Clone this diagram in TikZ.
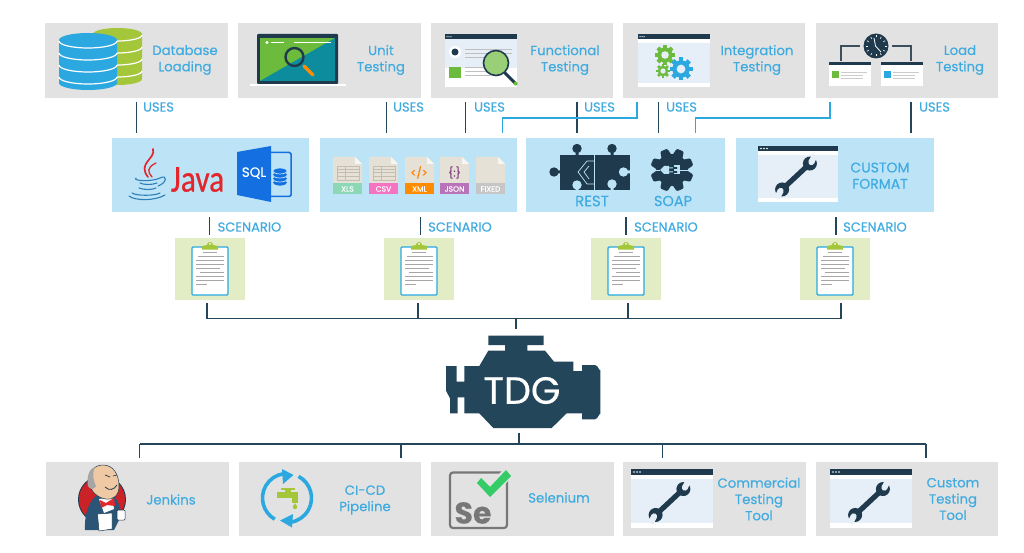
\documentclass[tikz,border=0pt]{standalone}
\usepackage{fontspec}
\setmainfont{Poppins}[FakeBold=0.35]
\newfontfamily\javaf{Carlito}[FakeBold=0.6]
\definecolor{gbox}{HTML}{E2E2E2}
\definecolor{mbox}{HTML}{BDE4F6}
\definecolor{sbox}{HTML}{E2EDC6}
\definecolor{lbl}{HTML}{3FABE0}
\definecolor{navy}{HTML}{24465B}
\definecolor{dark}{HTML}{1F3A4D}
\definecolor{win}{HTML}{E6EEF8}
\definecolor{cblue}{HTML}{2BA8E0}
\definecolor{lgreen}{HTML}{A4C63A}
\definecolor{mgreen}{HTML}{6CBB3C}
\definecolor{sqlb}{HTML}{1470E0}
\definecolor{docc}{HTML}{E6E1D6}
\definecolor{docl}{HTML}{C4BDB0}
\definecolor{jred}{HTML}{E2262B}
\definecolor{jcup}{HTML}{2C7FB8}
\definecolor{skin}{HTML}{EFC9A4}
\definecolor{suit}{HTML}{2A5576}
\definecolor{seg}{HTML}{777777}
\tikzset{
  graybox/.style={fill=gbox,draw=none,inner sep=0pt,anchor=north west},
  midbox/.style={fill=mbox,draw=none,inner sep=0pt,anchor=north west},
  scenbox/.style={fill=sbox,draw=none,inner sep=0pt,anchor=north west,minimum width=70pt,minimum height=62pt},
  lab/.style={text=lbl,align=center,inner sep=0pt,font=\fontsize{13.3}{16.3}\selectfont},
  tag/.style={text=lbl,inner sep=0pt,anchor=west,font=\fontsize{13}{14}\selectfont},
  bus/.style={draw=navy,line width=1.8pt},
  blue link/.style={draw=cblue,line width=1.7pt},
  flab/.style={text=white,inner sep=0pt,font=\fontsize{7.6}{8}\selectfont}
}
\newcommand\mywindow[4]{% x y w h
  \fill[white] (#1,#2) rectangle ++(#3,#4);
  \fill[win] (#1,#2+9) rectangle (#1+#3,#2+#4-4);
  \fill[dark] (#1,#2) rectangle (#1+#3,#2+5.5);
  \foreach \d in {2,4,6}{\fill[white] (#1+\d,#2+2.7) circle (0.7);}
}
\newcommand\mywrench[2]{%
  \begin{scope}[shift={(#1,#2)},rotate=43]
    \fill[dark] (-18,-2.6) rectangle (18,2.6);
    \fill[dark] (-19,0) circle (7);
    \fill[dark] (19,0) circle (7);
    \begin{scope}[shift={(21,0)},rotate=20]\fill[win] (0,-3) rectangle (8,3);\fill[win] (0,0) circle (3);\end{scope}
    \begin{scope}[shift={(-21,0)},rotate=-160]\fill[win] (0,-3) rectangle (8,3);\fill[win] (0,0) circle (3);\end{scope}
  \end{scope}
}
\newcommand\mygear[6]{% x y r color holecolor teeth
  \fill[#4] (#1,#2) circle (#3*0.76);
  \foreach \k in {1,...,#6}{
    \begin{scope}[shift={(#1,#2)},rotate=\k*360/#6]
      \fill[#4] (#3*0.6,-#3*0.2) rectangle (#3,#3*0.2);
    \end{scope}}
  \fill[#5] (#1,#2) circle (#3*0.38);
}
\newcommand\myclip[1]{% centre x
  \fill[white,draw=cblue,line width=1.4pt,rounded corners=1pt] (#1-18,247) rectangle (#1+18,295);
  \fill[lgreen] (#1-8,249.5) -- (#1-8,246) -- (#1-3,245) arc (180:360:3) -- (#1+8,246) -- (#1+8,249.5) -- cycle;
  \fill[white] (#1,243.8) circle (1);
  \draw[gray!70,line width=.8pt]
    (#1-7,252.5) -- (#1+7,252.5)
    (#1-12,256.5) -- (#1+14,256.5) (#1-14,260.5) -- (#1+14,260.5)
    (#1-14,264.5) -- (#1+14,264.5) (#1-14,268.5) -- (#1+10,268.5)
    (#1-10,272.5) -- (#1+14,272.5) (#1-14,276.5) -- (#1+14,276.5)
    (#1-14,280.5) -- (#1+14,280.5) (#1-14,284.5) -- (#1-3,284.5);
}
\newcommand\myfile[4]{% x colour label glyph
  \fill[docc] (#1,157) -- (#1+22,157) -- (#1+29,164) -- (#1+29,184) -- (#1,184) -- cycle;
  \fill[white!70!docc] (#1+22,157) -- (#1+29,164) -- (#1+22,164) -- cycle;
  \fill[#2] (#1,183.5) rectangle ++(29,11);
  \node[flab] (f#3) at (#1+14.5,189) {#3};
  #4
}
\newcommand\mygrid[1]{%
  \draw[docl,line width=.9pt] (#1+4,166) rectangle (#1+26,180)
   (#1+4,169) -- (#1+26,169) (#1+4,172.5) -- (#1+26,172.5) (#1+4,176) -- (#1+26,176) (#1+12,166) -- (#1+12,180);
}
\begin{document}
\begin{tikzpicture}[x=1pt,y=-1pt]
\useasboundingbox[fill=white] (0,0) rectangle (1024,553);

% ---------- top boxes
\node[graybox,minimum width=183pt,minimum height=75pt] (t1) at (45,23) {};
\node[graybox,minimum width=183pt,minimum height=75pt] (t2) at (238,23) {};
\node[graybox,minimum width=182pt,minimum height=75pt] (t3) at (431,23) {};
\node[graybox,minimum width=182pt,minimum height=75pt] (t4) at (623,23) {};
\node[graybox,minimum width=182pt,minimum height=75pt] (t5) at (816,23) {};
\node[lab] (t1l) at (185,60) {Database\\Loading};
\node[lab] (t2l) at (381,60) {Unit\\Testing};
\node[lab] (t3l) at (565,60) {Functional\\Testing};
\node[lab] (t4l) at (757,60) {Integration\\Testing};
\node[lab] (t5l) at (960,60) {Load\\Testing};

% ---------- middle boxes
\node[midbox,minimum width=197pt,minimum height=74pt] (m1) at (112,138) {};
\node[midbox,minimum width=197pt,minimum height=74pt] (m2) at (320,138) {};
\node[midbox,minimum width=199pt,minimum height=74pt] (m3) at (526,138) {};
\node[midbox,minimum width=198pt,minimum height=74pt] (m4) at (736,138) {};
\node[lab,font=\fontsize{15}{16.3}\selectfont] (m3a) at (592,201) {REST};
\node[lab,font=\fontsize{14.5}{16.3}\selectfont] (m3b) at (673,201) {SOAP};
\node[lab,font=\fontsize{14}{16.3}\selectfont] (m4l) at (880,175.7) {CUSTOM\\FORMAT};

% ---------- scenario boxes
\node[scenbox] (s1) at (175,238) {};
\node[scenbox] (s2) at (384,238) {};
\node[scenbox] (s3) at (591,238) {};
\node[scenbox] (s4) at (800,238) {};
\myclip{210}\myclip{419}\myclip{626}\myclip{835}

% ---------- bottom boxes
\node[graybox,minimum width=183pt,minimum height=74pt] (b1) at (46,462) {};
\node[graybox,minimum width=182pt,minimum height=74pt] (b2) at (239,462) {};
\node[graybox,minimum width=183pt,minimum height=74pt] (b3) at (431,462) {};
\node[graybox,minimum width=183pt,minimum height=74pt] (b4) at (623,462) {};
\node[graybox,minimum width=182pt,minimum height=74pt] (b5) at (816,462) {};
\node[lab] (b1l) at (171,499.5) {Jenkins};
\node[lab] (b2l) at (365,500) {CI-CD\\Pipeline};
\node[lab] (b3l) at (559,497.5) {Selenium};
\node[lab] (b4l) at (759,499) {Commercial\\Testing\\Tool};
\node[lab] (b5l) at (953,499) {Custom\\Testing\\Tool};

% ---------- engine
\begin{scope}[shift={(420,320)},scale=1/3]
\fill[navy] (205,47) -- (371,47) -- (371,75) -- (322,75) -- (322,92) -- (375,92) -- (402,125)
 -- (460,125) -- (460,153) -- (486,153) -- (486,135) -- (525,135) to[out=0,in=-90] (541,150)
 -- (541,282) to[out=90,in=0] (525,298) -- (486,298) -- (486,280) -- (440,280) -- (395,324)
 -- (220,324) -- (178,280) -- (133,280) -- (133,232) -- (113,232) -- (113,280) -- (90,280) -- (90,235) -- (78,212)
 -- (78,138) -- (110,138) -- (110,185) -- (133,185) -- (133,138) -- (178,138) -- (205,92) -- (255,92)
 -- (255,75) -- (205,75) -- cycle;
\end{scope}
\node[inner sep=0pt,text=white,font=\fontsize{38}{39}\selectfont] (tdg) at (522,390.5) {TDG};
\coordinate (tdgtop) at (516,329);
\coordinate (tdgbot) at (519,433);

% ---------- connectors
\foreach \x/\a/\b in {136.5/t1/m1,386.5/t2/m2,465.5/t3/m2,577/t3/m3,658.5/t4/m3,911/t5/m4}
  \draw[bus,line width=1.4pt,shorten <=4pt,shorten >=5pt] (\x,0 |- \a.south) -- (\x,0 |- \b.north);
\coordinate (bl1) at (637,118); \coordinate (bl2) at (502.5,118);
\coordinate (bl3) at (830,118); \coordinate (bl4) at (695.5,118);
\draw[blue link,shorten <=4pt,shorten >=5pt] (bl1 |- t4.south) -- (bl1) -- (bl2) -- (bl2 |- m2.north);
\draw[blue link,shorten <=4pt,shorten >=5pt] (bl3 |- t5.south) -- (bl3) -- (bl4) -- (bl4 |- m3.north);
\foreach \x/\a/\b in {209.5/m1/s1,420.5/m2/s2,626/m3/s3,836/m4/s4}
  \draw[bus,line width=1.4pt,shorten <=5pt,shorten >=3pt] (\x,0 |- \a.south) -- (\x,0 |- \b.north);
\coordinate (busL) at (207,318.5); \coordinate (busR) at (841,318.5);
\draw[bus,shorten <=3pt,shorten >=3pt] (207,0 |- s1.south) -- (busL) -- (busR) -- (841,0 |- s4.south);
\draw[bus,shorten <=3pt] (418,0 |- s2.south) -- (418,318.5);
\draw[bus,shorten <=3pt] (628,0 |- s3.south) -- (628,318.5);
\draw[bus] (516,318.5) -- (tdgtop);
\coordinate (lowL) at (139.5,444); \coordinate (lowR) at (926,444);
\draw[bus] (tdgbot) -- (519,444);
\draw[bus,shorten >=4pt] (lowL) -- (lowL |- b1.north);
\draw[bus,shorten >=4pt] (lowR) -- (lowR |- b5.north);
\draw[bus] (lowL) -- (lowR);
\draw[bus,shorten >=4pt] (401,444) -- (401,0 |- b2.north);
\draw[bus,shorten >=4pt] (662.5,444) -- (662.5,0 |- b4.north);

% ---------- tags
\foreach \n/\x in {a/143,b/393,c/474,d/584,e/666,f/919}
  \node[tag] (u\n) at (\x,107) {USES};
\foreach \n/\x in {a/217.5,b/428,c/634,d/843}
  \node[tag] (sc\n) at (\x,227) {SCENARIO};

% ---------- database icon
\foreach \c/\xa/\xb/\ya/\yb/\ry/\st in {lgreen/93/142/28/85/6/12,cblue/59/117/33/90/7/12}{
  \fill[\c] (\xa,\ya+\ry) arc (180:360:{(\xb-\xa)/2} and \ry) -- (\xb,\yb-\ry) arc (0:180:{(\xb-\xa)/2} and \ry) -- cycle;
  \foreach \k in {0,1,2,3}{
   \draw[white,line width=1.2pt] (\xa,\ya+\ry+1+\k*\st) arc (180:0:{(\xb-\xa)/2} and \ry);}
}

% ---------- unit testing laptop
\fill[white] (250,84) rectangle (346,86);
\fill[dark,rounded corners=1pt] (257,34) rectangle (338,84);
\fill[mgreen] (260,38) rectangle (335,81);
\fill[teal!70!cblue] (335,38) -- (335,81) -- (260,81) -- cycle;
\fill[white] (267,42.5) circle (1.6);
\draw[white,line width=.8pt] (271,42.5) -- (284,42.5) (294,42.5) -- (331,42.5);
\draw[orange!90!yellow,line width=3.5pt,line cap=round] (304,66) -- (313,75);
\draw[dark,line width=2.4pt] (294.5,57) circle (9);

% ---------- functional testing
\fill[white] (445,34) rectangle (517,87);
\fill[win] (445,39) rectangle (517,68);
\fill[dark] (445,34) rectangle (517,39.5);
\foreach \d in {2,4,6}{\fill[white] (445+\d,36.7) circle (.6);}
\fill[white] (455,52) circle (6); \fill[dark] (455,52) circle (3.5);
\fill[mgreen] (449,67) rectangle (461,78);
\draw[gray!50,line width=.7pt] (465,49) -- (512,49) (465,53) -- (512,53) (465,57) -- (485,57)
  (465,67) -- (490,67) (465,71) -- (490,71) (465,75) -- (490,75);
\draw[dark,line width=3pt,line cap=round] (505,73) -- (516,84);
\fill[mgreen] (515.5,83.5) circle (2);
\fill[mgreen!70!white,draw=dark,line width=1.6pt] (496,63) circle (12.5);

% ---------- integration testing
\mywindow{638}{34}{72}{53}
\mygear{665}{55}{10}{mgreen}{win}{8}
\mygear{663}{71}{7}{mgreen}{win}{8}
\mygear{681}{69}{11.5}{cblue}{win}{8}

% ---------- load testing
\draw[dark!70!gray,line width=1.2pt] (860,46) -- (841,46) -- (841,61) (892,46) -- (911,46) -- (911,61);
\fill[dark] (876,46) circle (12.5);
\foreach \k in {0,30,...,330}{\draw[white,line width=.6pt] (876,46) ++(\k:8.5) -- ++(\k:2);}
\draw[white,line width=.8pt] (874,38) -- (875.5,46) -- (881,52);
\foreach \x/\c in {829/mgreen,881/cblue}{
  \fill[white] (\x,62) rectangle ++(42,24);
  \fill[dark] (\x,62) rectangle ++(42,3);
  \fill[\c] (\x+3,71) rectangle ++(7,7);
  \draw[gray!40,line width=.6pt] (\x+12,72) -- ++(26,0) (\x+12,75) -- ++(22,0) (\x+12,78) -- ++(22,0);
}

% ---------- java
\node[inner sep=0pt,text=jred,font=\javaf\fontsize{38}{40}\selectfont] (java) at (197.5,179.5) {\scalebox{0.83}[1]{Java}};
\draw[jred,line width=1.7pt,line cap=round] (153,149) .. controls (156,159) and (137,163) .. (148,177);
\draw[jred,line width=1.3pt,line cap=round] (156,163) .. controls (146,168) and (148,172) .. (152,177);
\draw[jcup,line width=1.1pt,line cap=round]
  (136,178) .. controls (132,181) and (152,182) .. (160,178)
  (140,183) .. controls (144,185) and (152,185) .. (157,183)
  (139,188) .. controls (144,190) and (152,190) .. (156,188)
  (132,193) .. controls (136,196) and (155,196) .. (160,193)
  (129,196) .. controls (135,201) and (155,201) .. (165,195)
  (160,178) .. controls (168,174) and (167,183) .. (158,186);

% ---------- SQL
\draw[sqlb,line width=1.5pt,rounded corners=1.5pt] (268,152.5) -- (291,152.5) -- (291,196.5) -- (268,196.5);
\fill[sqlb] (237,152) -- (271,146) -- (271,202) -- (237,195) -- cycle;
\node[inner sep=0pt,text=white,font=\fontsize{13.5}{14}\selectfont] (sql) at (254,173) {SQL};
\foreach \y in {183,179,175,171}{\fill[sqlb] (280,\y) ellipse (7 and 3); \draw[mbox,line width=.7pt] (273,\y) arc (180:0:7 and 3);}
\draw[mbox,line width=.7pt] (273,171) arc (180:360:7 and 3);

% ---------- files
\myfile{333}{green!30!teal!45!white}{XLS}{\mygrid{333}}
\myfile{369}{magenta!55!white}{CSV}{\mygrid{369}}
\myfile{405}{orange!90!yellow}{XML}{\node[inner sep=0pt,text=orange,font=\fontsize{11}{12}\selectfont] (g1) at (419,172.5) {</>};}
\myfile{440}{violet!55!white}{JSON}{\node[inner sep=0pt,text=violet!50!gray,font=\fontsize{11}{12}\selectfont] (g2) at (454.5,172.5) {\{:\}};}
\myfile{476}{gray!45}{FIXED}{}

% ---------- REST puzzle
\fill[dark] (560,155) rectangle (629.5,190);
\fill[dark] (577,148.5) circle (4.7) (612,148.5) circle (4.7) (554,172) circle (4.7);
\fill[dark] (575.5,151) rectangle (578.5,156) (610.5,151) rectangle (613.5,156) (554,170.5) rectangle (561,173.5);
\fill[mbox] (577,185) circle (4.7) (612,184) circle (4.7) (623.5,172) circle (4.7);
\fill[mbox] (575.5,185) rectangle (578.5,190.5) (610.5,184) rectangle (613.5,190.5) (624,170.5) rectangle (630,173.5);
\draw[mbox,line width=.6pt] (594.5,155) -- (594.5,190);
\draw[mbox,line width=.7pt] (594.5,161) -- (587,161) -- (578,172) -- (587,184) -- (594.5,184);
\draw[mbox,line width=.7pt] (589,166) -- (584,172) -- (589,179);

% ---------- SOAP gear
\fill[dark] (672,170) circle (16);
\foreach \k in {0,45,...,315}{
  \begin{scope}[shift={(672,170)},rotate=\k+22.5]
    \fill[dark,rounded corners=1.2pt] (13,-5.5) -- (21.5,-3.8) -- (21.5,3.8) -- (13,5.5) -- cycle;
  \end{scope}}
\draw[mbox,line width=.9pt] (651,170) -- (660,170) (680,170) -- (693,170);
\fill[mbox] (660,170) -- (664,166) -- (669,166) -- (669,174) -- (664,174) -- cycle;
\fill[mbox] (669,167.5) rectangle (673,168.5) (669,171.5) rectangle (673,172.5);
\fill[mbox] (674,165.5) rectangle (680,174.5);
\fill[dark] (674,167.2) rectangle (677,168.8) (674,171.2) rectangle (677,172.8);

% ---------- custom format window
\fill[white] (758,146) rectangle (838,202);
\fill[win] (758,155) rectangle (838,198);
\fill[dark] (758,146) rectangle (838,151);
\foreach \d in {3,6,9}{\fill[white] (758+\d,148.5) circle (.8);}
\mywrench{796}{176.5}

% ---------- jenkins
\fill[dark] (102,499.5) circle (24);
\fill[jred!90!black] (102,499.5) circle (23);
\fill[suit] (85,530) .. controls (84,510) and (92,496) .. (100,494) -- (112,494)
   .. controls (118,500) and (121,508) .. (121,516) -- (114,530) -- cycle;
\fill[white!85!win] (99,499) -- (112,497) -- (114,509) -- (104,513) -- cycle;
\fill[skin,draw=dark,line width=.5pt] (89,483) .. controls (88,472) and (94,465) .. (103,465)
   .. controls (113,465) and (119,474) .. (119,486) .. controls (119,495) and (114,500) .. (106,499)
   .. controls (98,498) and (91,492) .. (89,483) -- cycle;
\fill[gray!70!white] (88,486) .. controls (86,476) and (90,468) .. (95,467) .. controls (92,474) and (93,480) .. (96,486) .. controls (94,490) and (90,490) .. (88,486) -- cycle;
\draw[dark,line width=.7pt] (105,475) -- (110,477) (113,476) -- (117,475);
\draw[dark,line width=.8pt] (105,487) .. controls (109,491) and (114,490) .. (117,485);
\fill[jred] (100,500) -- (106,503) -- (114,498) -- (115,506) -- (107,505) -- (101,508) -- cycle;
\fill[white,draw=dark,line width=.5pt] (97.5,514) -- (112,513) -- (112,529) -- (99,531) -- cycle;
\fill[white,draw=dark,line width=.5pt,rounded corners=1pt] (117,510) rectangle (125,520);

% ---------- CI-CD
\draw[cblue,line width=3.6pt] (287,498) ++(120:24.5) arc (120:262:24.5);
\draw[cblue,line width=3.6pt] (287,498) ++(298:24.5) arc (298:442:24.5);
\fill[cblue] (293.5,475) -- (282,469) -- (283,484) -- cycle;
\fill[cblue] (280,520.5) -- (293,514) -- (292,527.5) -- cycle;
\fill[lgreen] (277,492) rectangle (298,498);
\fill[lgreen] (285,489) rectangle (291,492);
\fill[lgreen] (281,487.5) rectangle (295,489.5);
\fill[lgreen] (292,498) rectangle (298,503);
\fill[lgreen] (295,507) circle (2.2);
\fill[lgreen] (293,507) -- (295,503) -- (297,507) -- cycle;

% ---------- selenium
\draw[seg,line width=2.2pt,rounded corners=3pt] (450,472.5) rectangle (507,528);
\node[inner sep=0pt,text=seg,font=\bfseries\fontsize{30}{32}\selectfont] (se) at (473,513) {Se};
\fill[gbox] (474,479) -- (480,474) -- (490,485) -- (506,466) -- (514,474) -- (490,502) -- cycle;
\fill[green!50!teal!80!white] (477,483) -- (481,478) -- (490,487) -- (506,470) -- (511,476) -- (490,497) -- cycle;

% ---------- tool windows
\foreach \x in {631,830}{
  \fill[white] (\x,469) rectangle ++(81.5,59);
  \fill[win] (\x,479) rectangle ++(81.5,44);
  \fill[dark] (\x,469) rectangle ++(81.5,6);
  \foreach \d in {3,6,9}{\fill[white] (\x+\d,472) circle (.8);}
}
\mywrench{669.5}{502}
\mywrench{869}{502}
\end{tikzpicture}
\end{document}
